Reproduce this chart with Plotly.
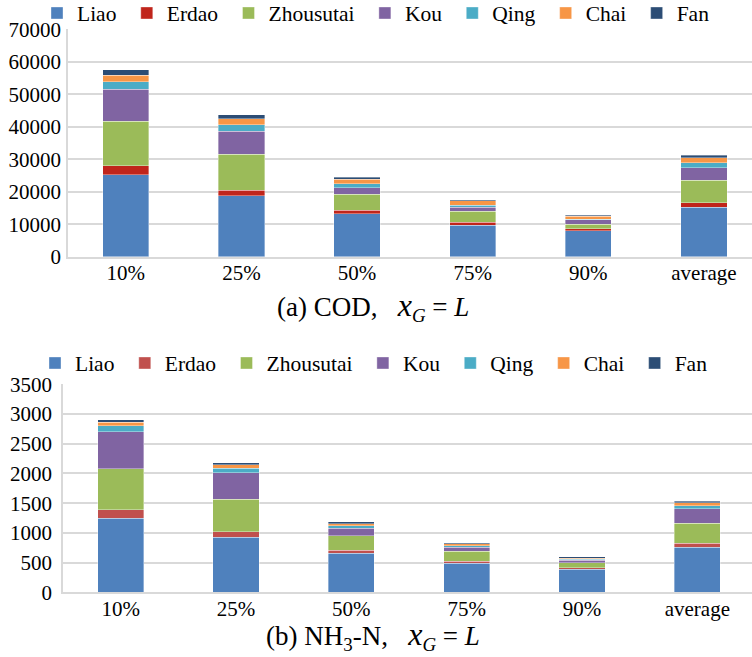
import plotly.graph_objects as go

categories = ["10%", "25%", "50%", "75%", "90%", "average"]
series_names = ["Liao", "Erdao", "Zhousutai", "Kou", "Qing", "Chai", "Fan"]

# (a) COD loads per tributary
cod_liao = [25200, 18700, 13200, 9750, 8000, 15300]
cod_erdao = [2800, 1800, 1150, 800, 600, 1300]
cod_zhousutai = [13700, 11000, 4950, 3400, 1350, 6900]
cod_kou = [9900, 7100, 1950, 1200, 1350, 3900]
cod_qing = [2200, 1950, 1200, 700, 300, 1450]
cod_chai = [2000, 1850, 1350, 1350, 900, 1550]
cod_fan = [1700, 1300, 700, 400, 300, 900]

# (b) NH3-N loads per tributary
nh_liao = [1245, 925, 656, 488, 387, 757]
nh_erdao = [145, 95, 51, 34, 27, 67]
nh_zhousutai = [685, 545, 246, 168, 79, 342]
nh_kou = [628, 448, 124, 67, 46, 241]
nh_qing = [100, 74, 39, 28, 16, 51]
nh_chai = [62, 55, 39, 28, 22, 50]
nh_fan = [40, 39, 28, 17, 17, 23]

cod_ticks = [0, 10000, 20000, 30000, 40000, 50000, 60000, 70000]
nh_ticks = [0, 500, 1000, 1500, 2000, 2500, 3000, 3500]

colors_top = ["#4F81BD", "#C0251B", "#9BBB59", "#8064A2", "#4BACC6", "#F79646", "#2C4D75"]
colors_bot = ["#4F81BD", "#C0504D", "#9BBB59", "#8064A2", "#4BACC6", "#F79646", "#2C4D75"]

cod_series = [cod_liao, cod_erdao, cod_zhousutai, cod_kou, cod_qing, cod_chai, cod_fan]
nh_series = [nh_liao, nh_erdao, nh_zhousutai, nh_kou, nh_qing, nh_chai, nh_fan]

FONT = "Liberation Serif"
W, H = 752, 657


def fx(px):
    return px / W


def fy(py):
    return 1 - py / H


fig = go.Figure()
for name, vals, col in zip(series_names, cod_series, colors_top):
    fig.add_trace(go.Bar(x=categories, y=vals, name=name + "\u00a0", marker_color=col,
                         marker_line=dict(color="rgba(255,255,255,0.6)", width=0.6),
                         width=0.4, xaxis="x", yaxis="y", legend="legend"))
for name, vals, col in zip(series_names, nh_series, colors_bot):
    fig.add_trace(go.Bar(x=categories, y=vals, name=name + "\u00a0", marker_color=col,
                         marker_line=dict(color="rgba(255,255,255,0.6)", width=0.6),
                         width=0.4, xaxis="x2", yaxis="y2", legend="legend2"))

grid = "#D9D9D9"
axfont = dict(family=FONT, size=21, color="#000")
common_y = dict(showgrid=True, gridcolor=grid, gridwidth=1.5, showline=True,
                linecolor=grid, linewidth=1.5, zeroline=False, tickfont=axfont,
                ticks="", fixedrange=True, tickformat="d", automargin=False)
common_x = dict(showline=True, linecolor=grid, linewidth=1.5, showgrid=False,
                tickfont=axfont, ticks="", type="category", automargin=False,
                fixedrange=True)

legfont = dict(family=FONT, size=21.5, color="#000")

x1_left, x1_right = 68, 761.7
x2_left, x2_right = 63, 755

fig.update_layout(
    width=W, height=H, barmode="stack", hovermode=False,
    margin=dict(l=0, r=0, t=0, b=0, autoexpand=False),
    paper_bgcolor="white", plot_bgcolor="white",
    font=dict(family=FONT, color="#000"),
    xaxis=dict(domain=[fx(x1_left), 1],
               range=[-0.5, -0.5 + 6 * (W - x1_left) / (x1_right - x1_left)],
               anchor="y", ticklabelstandoff=-4, **common_x),
    yaxis=dict(domain=[fy(256.7), fy(29.3)], range=[0, 70000],
               tickvals=cod_ticks, anchor="x", ticklabelstandoff=1, **common_y),
    xaxis2=dict(domain=[fx(x2_left), 1],
                range=[-0.5, -0.5 + 6 * (W - x2_left) / (x2_right - x2_left)],
                anchor="y2", ticklabelstandoff=-3, **common_x),
    yaxis2=dict(domain=[fy(592.3), fy(384.3)], range=[0, 3500],
                tickvals=nh_ticks, anchor="x2", ticklabelstandoff=5, **common_y),
    legend=dict(orientation="h", x=fx(37), y=fy(13), xanchor="left", yanchor="middle",
                font=legfont, bgcolor="rgba(0,0,0,0)", traceorder="normal"),
    legend2=dict(orientation="h", x=fx(35), y=fy(363), xanchor="left", yanchor="middle",
                 font=legfont, bgcolor="rgba(0,0,0,0)", traceorder="normal"),
    showlegend=True,
)

sp = "\u00a0\u00a0\u00a0"
xg = "<span style='font-size:32px'><i>x</i></span><sub><i>G</i></sub> = <i>L</i>"
fig.add_annotation(text="(a) COD," + sp + xg, x=fx(373), y=fy(307),
                   xref="paper", yref="paper", showarrow=False,
                   font=dict(family=FONT, size=27, color="#000"), xanchor="center", yanchor="middle")
fig.add_annotation(text="(b) NH<sub>3</sub>-N," + sp + xg, x=fx(373), y=fy(635),
                   xref="paper", yref="paper", showarrow=False,
                   font=dict(family=FONT, size=27, color="#000"), xanchor="center", yanchor="middle")

fig.write_html("out.html", config={"displayModeBar": False, "staticPlot": False},
               post_script="document.body.style.margin='0px';document.body.style.padding='0px';")
